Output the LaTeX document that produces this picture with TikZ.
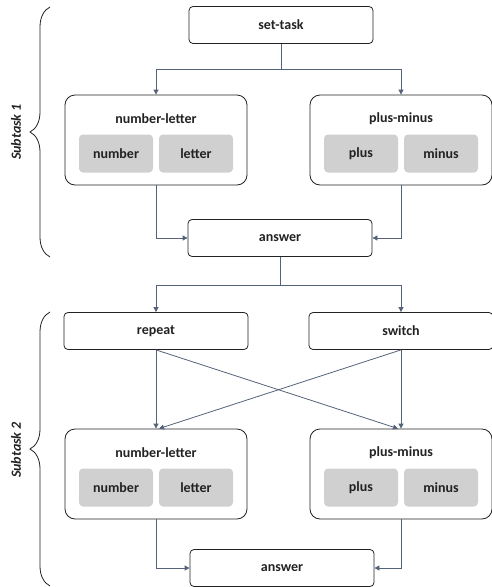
\documentclass[tikz,border=0pt]{standalone}
\usepackage{fontspec}
\setmainfont{Carlito}
\usepackage{xcolor}
\usetikzlibrary{calc}
\usetikzlibrary{arrows.meta}
\usetikzlibrary{positioning}
\usetikzlibrary{decorations.pathreplacing}
\definecolor{linkblue}{RGB}{84,98,122}
\definecolor{boxgray}{RGB}{208,208,208}
\definecolor{textdark}{RGB}{34,34,34}

\begin{document}
\begin{tikzpicture}[x=1pt,y=-1pt]
% 1 = 1px of the reference, y runs down
    \def\XLEFT{156}
    \def\XRIGHT{401}
    \def\XMID{280}
    \def\PARTDX{40}
    \def\TITLEDY{21}
    \def\PARTDY{13.5}

    %SUBTASK 1
    \def\YSETTASK{25}
    \def\YSPLITONE{69}
    \def\YGROUPONE{140}
    \def\YANSWERONE{238}

    %SUBTASK 2
    \def\YSPLITTWO{285}
    \def\YCUE{331}
    \def\YGROUPTWO{474}
    \def\YANSWERTWO{568}

    \tikzset{
      stepbox/.style={draw=textdark, rounded corners=4pt, inner sep=0pt,
        minimum width=184pt, minimum height=37pt, line width=0.8pt,
        font=\fontsize{14}{16}\selectfont\bfseries, text=textdark},
      groupbox/.style={draw=textdark, rounded corners=10pt,
        minimum width=182pt, minimum height=90pt, line width=0.8pt},
      partbox/.style={fill=boxgray, rounded corners=4pt, inner sep=0pt,
        minimum width=74pt, minimum height=38pt,
        font=\fontsize{14}{16}\selectfont\bfseries, text=textdark},
      grouptitle/.style={font=\fontsize{14}{16}\selectfont\bfseries, text=textdark},
      link/.style={-{Triangle[width=5pt,length=5pt]}, draw=linkblue,
        line width=0.8pt},
      subbrace/.style={decorate, decoration={brace, amplitude=20pt},
        draw=textdark, line width=0.8pt},
      sublabel/.style={rotate=90, font=\fontsize{14}{16}\selectfont\bfseries\itshape,
        text=textdark},
    }

    \useasboundingbox (0,0) rectangle (492,587);

    % SUBTASK 1
    \node[stepbox] (settask) at (281,\YSETTASK) {set-task};

    \node[groupbox] (nlone) at (\XLEFT,\YGROUPONE) {};
    \node[grouptitle] (nlonetitle) at (\XLEFT,\YGROUPONE-\TITLEDY) {number-letter};
    \node[partbox] (numberone) at (\XLEFT-\PARTDX,\YGROUPONE+\PARTDY) {number};
    \node[partbox] (letterone) at (\XLEFT+\PARTDX,\YGROUPONE+\PARTDY) {letter};

    \node[groupbox] (pmone) at (\XRIGHT,\YGROUPONE) {};
    \node[grouptitle] (pmonetitle) at (\XRIGHT,\YGROUPONE-\TITLEDY) {plus-minus};
    \node[partbox] (plusone) at (\XRIGHT-\PARTDX,\YGROUPONE+\PARTDY) {plus};
    \node[partbox] (minusone) at (\XRIGHT+\PARTDX,\YGROUPONE+\PARTDY) {minus};

    \node[stepbox] (answerone) at (\XMID,\YANSWERONE) {answer};

    \coordinate (splitone) at (281,\YSPLITONE);
    \draw[link] (settask.south) -- (splitone) -| (nlone.north);
    \draw[link] (splitone) -| (pmone.north);
    \draw[link] (nlone.south) |- (answerone.west);
    \draw[link] (pmone.south) |- (answerone.east);

    \draw[subbrace] (50,257) -- (50,7);
    \node[sublabel] (subone) at (16,132) {Subtask 1};

    % SUBTASK 2
    \node[stepbox] (repeat) at (\XLEFT,\YCUE) {repeat};
    \node[stepbox] (switch) at (\XRIGHT,\YCUE) {switch};

    \node[groupbox] (nltwo) at (\XLEFT,\YGROUPTWO) {};
    \node[grouptitle] (nltwotitle) at (\XLEFT,\YGROUPTWO-\TITLEDY) {number-letter};
    \node[partbox] (numbertwo) at (\XLEFT-\PARTDX,\YGROUPTWO+\PARTDY) {number};
    \node[partbox] (lettertwo) at (\XLEFT+\PARTDX,\YGROUPTWO+\PARTDY) {letter};

    \node[groupbox] (pmtwo) at (\XRIGHT,\YGROUPTWO) {};
    \node[grouptitle] (pmtwotitle) at (\XRIGHT,\YGROUPTWO-\TITLEDY) {plus-minus};
    \node[partbox] (plustwo) at (\XRIGHT-\PARTDX,\YGROUPTWO+\PARTDY) {plus};
    \node[partbox] (minustwo) at (\XRIGHT+\PARTDX,\YGROUPTWO+\PARTDY) {minus};

    \node[stepbox] (answertwo) at (\XMID+2,\YANSWERTWO) {answer};

    \coordinate (splittwo) at (\XMID,\YSPLITTWO);
    \draw[link] (answerone.south) -- (splittwo) -| (repeat.north);
    \draw[link] (splittwo) -| (switch.north);

    % crossing cues
    \draw[link] (repeat.south) -- (nltwo.north);
    \draw[link] (switch.south) -- (pmtwo.north);
    \draw[link] (repeat.south) -- ($(pmtwo.north)+(-3,0)$);
    \draw[link] (switch.south) -- ($(nltwo.north)+(3,0)$);

    \draw[link] (nltwo.south) |- (answertwo.west);
    \draw[link] (pmtwo.south) |- (answertwo.east);

    \draw[subbrace] (50,586) -- (50,312);
    \node[sublabel] (subtwo) at (16,450) {Subtask 2};
\end{tikzpicture}
\end{document}
